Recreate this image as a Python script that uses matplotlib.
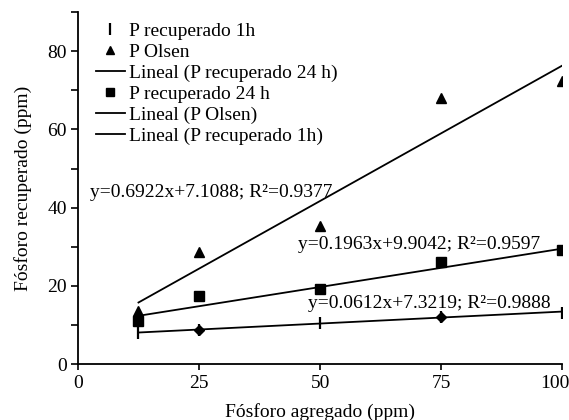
import matplotlib
matplotlib.use("Agg")
import matplotlib.pyplot as plt
from matplotlib.lines import Line2D
from matplotlib.ticker import MultipleLocator
import matplotlib.transforms as mtransforms
import numpy as np

# Phosphorus added (ppm)
dose = [12.5, 25, 50, 75, 100]

# Recovered phosphorus (ppm) per method
p_1h = [8.0, 8.7, 10.4, 12.1, 13.2]
p_olsen = [13.7, 28.7, 35.4, 68.0, 72.3]
p_24h = [11.1, 17.3, 19.2, 26.0, 29.1]

# Linear fits: (slope, intercept, R2)
fit_olsen = (0.6922, 7.1088, 0.9377)
fit_24h = (0.1963, 9.9042, 0.9597)
fit_1h = (0.0612, 7.3219, 0.9888)

plt.rcParams["font.family"] = ["Liberation Serif", "DejaVu Serif"]

fig = plt.figure(figsize=(5.69, 4.20), dpi=100)
ax = fig.add_axes([0.137, 0.133, 0.851, 0.838])

xs = np.array([dose[0], dose[-1]])


def fit_line(fit):
    m, b, _ = fit
    return m * xs + b


lw = 1.3
ax.plot(xs, fit_line(fit_olsen), color="black", lw=lw)
ax.plot(xs, fit_line(fit_24h), color="black", lw=lw)
ax.plot(xs, fit_line(fit_1h), color="black", lw=lw)

ax.plot(dose, p_1h, ls="none", marker="|", color="black", ms=9, mew=1.6)
ax.plot([dose[1], dose[3]], [p_1h[1], p_1h[3]], ls="none", marker="D",
        color="black", ms=5)
ax.plot(dose, p_olsen, ls="none", marker="^", color="black", ms=7.5)
ax.plot(dose, p_24h, ls="none", marker="s", color="black", ms=6.5)


def eq_text(fit):
    m, b, r2 = fit
    return f"y={m:.4f}x+{b:.4f}; R\u00b2={r2:.4f}"


fs = 14
ax.text(2.5, 44.0, eq_text(fit_olsen), fontsize=fs, va="center", ha="left")
ax.text(45.5, 30.5, eq_text(fit_24h), fontsize=fs, va="center", ha="left")
ax.text(47.5, 15.4, eq_text(fit_1h), fontsize=fs, va="center", ha="left")

handles = [
    Line2D([], [], ls="none", marker="|", color="black", ms=8, mew=1.6),
    Line2D([], [], ls="none", marker="^", color="black", ms=6),
    Line2D([], [], color="black", lw=lw),
    Line2D([], [], ls="none", marker="s", color="black", ms=5.5),
    Line2D([], [], color="black", lw=lw),
    Line2D([], [], color="black", lw=lw),
]
labels = [
    "P recuperado 1h",
    "P Olsen",
    "Lineal (P recuperado 24 h)",
    "P recuperado 24 h",
    "Lineal (P Olsen)",
    "Lineal (P recuperado 1h)",
]
ax.legend(handles, labels, loc="upper left", bbox_to_anchor=(0.018, 1.0),
          frameon=False, fontsize=fs, handlelength=1.45, handletextpad=0.25,
          labelspacing=0.18, borderaxespad=0.3, borderpad=0.2)

ax.set_xlim(0, 100)
ax.set_ylim(0, 90)
ax.set_xticks([0, 25, 50, 75, 100])
ax.yaxis.set_major_locator(MultipleLocator(20))
ax.yaxis.set_minor_locator(MultipleLocator(10))
ax.set_yticks([0, 20, 40, 60, 80])

for side in ("top", "right"):
    ax.spines[side].set_visible(False)
for side in ("left", "bottom"):
    ax.spines[side].set_linewidth(1.3)

ax.tick_params(axis="both", which="both", direction="out", width=1.2,
               labelsize=fs, colors="black")
ax.tick_params(axis="y", which="major", length=5, pad=3)
ax.tick_params(axis="y", which="minor", length=5)
ax.tick_params(axis="x", which="major", length=4, pad=4)

# keep the last x tick label inside the canvas
last = ax.get_xticklabels()[-1]
last.set_transform(last.get_transform() +
                   mtransforms.ScaledTranslation(-7 / 100, 0, fig.dpi_scale_trans))

ax.set_xlabel("Fósforo agregado (ppm)", fontsize=fs, labelpad=8)
ax.set_ylabel("Fósforo recuperado (ppm)", fontsize=fs, labelpad=11)

fig.savefig("out.png", dpi=100)
